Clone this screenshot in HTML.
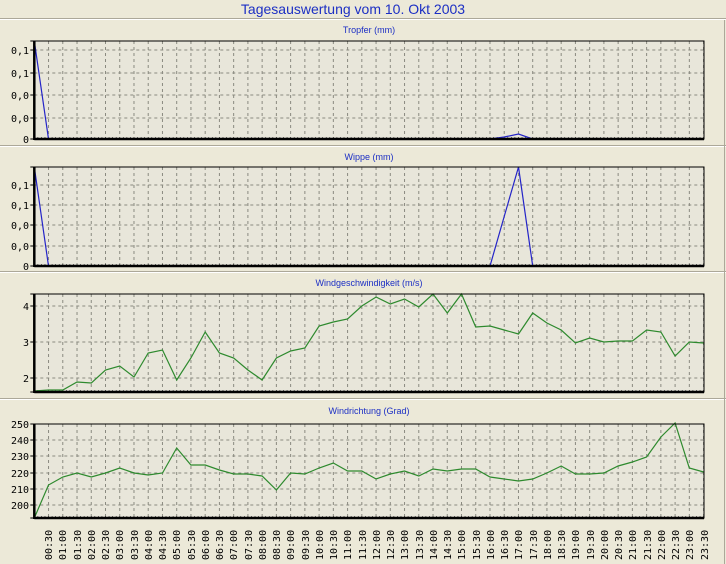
<!DOCTYPE html>
<html><head><meta charset="utf-8"><style>
body{margin:0;background:#ECE9D8;}
svg{display:block;font-family:"Liberation Sans",sans-serif;}
.yl{font-family:"DejaVu Sans Mono","Liberation Mono",monospace;font-size:10px;fill:#000;text-anchor:end;}
.xl{font-family:"DejaVu Sans Mono","Liberation Mono",monospace;font-size:10px;fill:#000;}
.st{font-size:9px;fill:#1c2fc4;text-anchor:middle;}
</style></head><body>
<svg id="s" width="726" height="564" viewBox="0 0 726 564" xmlns="http://www.w3.org/2000/svg">
<rect width="726" height="564" fill="#ECE9D8"/>
<line x1="0" y1="18.5" x2="726" y2="18.5" stroke="#ACA899"/><line x1="0" y1="19.5" x2="726" y2="19.5" stroke="#fff"/>
<line x1="0" y1="145.5" x2="726" y2="145.5" stroke="#ACA899"/><line x1="0" y1="146.5" x2="726" y2="146.5" stroke="#fff"/>
<line x1="0" y1="271.5" x2="726" y2="271.5" stroke="#ACA899"/><line x1="0" y1="272.5" x2="726" y2="272.5" stroke="#fff"/>
<line x1="0" y1="398.5" x2="726" y2="398.5" stroke="#ACA899"/><line x1="0" y1="399.5" x2="726" y2="399.5" stroke="#fff"/>
<line x1="724.5" y1="20" x2="724.5" y2="564" stroke="#ACA899"/>
<text x="353" y="14" text-anchor="middle" font-size="14" fill="#1c2fc4">Tagesauswertung vom 10. Okt 2003</text>
<text class="st" x="369" y="33">Tropfer (mm)</text>
<text class="st" x="369" y="160">Wippe (mm)</text>
<text class="st" x="369" y="286">Windgeschwindigkeit (m/s)</text>
<text class="st" x="369" y="414">Windrichtung (Grad)</text>
<g id="g"></g>
<text class="yl" x="29" y="54">0,1</text><text class="yl" x="29" y="77">0,1</text><text class="yl" x="29" y="99">0,0</text><text class="yl" x="29" y="122">0,0</text><text class="yl" x="29" y="143">0</text>
<text class="yl" x="29" y="189">0,1</text><text class="yl" x="29" y="209">0,1</text><text class="yl" x="29" y="229">0,0</text><text class="yl" x="29" y="250">0,0</text><text class="yl" x="29" y="270">0</text>
<text class="yl" x="29" y="310">4</text><text class="yl" x="29" y="346">3</text><text class="yl" x="29" y="382">2</text>
<text class="yl" x="29" y="428">250</text><text class="yl" x="29" y="444">240</text><text class="yl" x="29" y="460">230</text><text class="yl" x="29" y="477">220</text><text class="yl" x="29" y="493">210</text><text class="yl" x="29" y="509">200</text>
<g id="xl">
<text class="xl" transform="translate(52,560) rotate(-90)">00:30</text><text class="xl" transform="translate(66,560) rotate(-90)">01:00</text><text class="xl" transform="translate(81,560) rotate(-90)">01:30</text><text class="xl" transform="translate(95,560) rotate(-90)">02:00</text><text class="xl" transform="translate(109,560) rotate(-90)">02:30</text><text class="xl" transform="translate(123,560) rotate(-90)">03:00</text><text class="xl" transform="translate(138,560) rotate(-90)">03:30</text><text class="xl" transform="translate(152,560) rotate(-90)">04:00</text><text class="xl" transform="translate(166,560) rotate(-90)">04:30</text><text class="xl" transform="translate(180,560) rotate(-90)">05:00</text><text class="xl" transform="translate(195,560) rotate(-90)">05:30</text><text class="xl" transform="translate(209,560) rotate(-90)">06:00</text><text class="xl" transform="translate(223,560) rotate(-90)">06:30</text><text class="xl" transform="translate(237,560) rotate(-90)">07:00</text><text class="xl" transform="translate(252,560) rotate(-90)">07:30</text><text class="xl" transform="translate(266,560) rotate(-90)">08:00</text><text class="xl" transform="translate(280,560) rotate(-90)">08:30</text><text class="xl" transform="translate(294,560) rotate(-90)">09:00</text><text class="xl" transform="translate(309,560) rotate(-90)">09:30</text><text class="xl" transform="translate(323,560) rotate(-90)">10:00</text><text class="xl" transform="translate(337,560) rotate(-90)">10:30</text><text class="xl" transform="translate(351,560) rotate(-90)">11:00</text><text class="xl" transform="translate(366,560) rotate(-90)">11:30</text><text class="xl" transform="translate(380,560) rotate(-90)">12:00</text><text class="xl" transform="translate(394,560) rotate(-90)">12:30</text><text class="xl" transform="translate(408,560) rotate(-90)">13:00</text><text class="xl" transform="translate(423,560) rotate(-90)">13:30</text><text class="xl" transform="translate(437,560) rotate(-90)">14:00</text><text class="xl" transform="translate(451,560) rotate(-90)">14:30</text><text class="xl" transform="translate(465,560) rotate(-90)">15:00</text><text class="xl" transform="translate(480,560) rotate(-90)">15:30</text><text class="xl" transform="translate(494,560) rotate(-90)">16:00</text><text class="xl" transform="translate(508,560) rotate(-90)">16:30</text><text class="xl" transform="translate(522,560) rotate(-90)">17:00</text><text class="xl" transform="translate(537,560) rotate(-90)">17:30</text><text class="xl" transform="translate(551,560) rotate(-90)">18:00</text><text class="xl" transform="translate(565,560) rotate(-90)">18:30</text><text class="xl" transform="translate(579,560) rotate(-90)">19:00</text><text class="xl" transform="translate(594,560) rotate(-90)">19:30</text><text class="xl" transform="translate(608,560) rotate(-90)">20:00</text><text class="xl" transform="translate(622,560) rotate(-90)">20:30</text><text class="xl" transform="translate(636,560) rotate(-90)">21:00</text><text class="xl" transform="translate(651,560) rotate(-90)">21:30</text><text class="xl" transform="translate(665,560) rotate(-90)">22:00</text><text class="xl" transform="translate(679,560) rotate(-90)">22:30</text><text class="xl" transform="translate(693,560) rotate(-90)">23:00</text><text class="xl" transform="translate(708,560) rotate(-90)">23:30</text>
</g>
</svg>
<script>
(function(){
var NS="http://www.w3.org/2000/svg",g=document.getElementById("g");
function el(t,a){var e=document.createElementNS(NS,t);for(var k in a)e.setAttribute(k,a[k]);g.appendChild(e);return e;}
var X0=34.3,DX=14.24,XR=704;
function X(i){return X0+i*DX;}
var P=[{t:41,b:139,h:[50,73,95,118]},{t:167,b:266,h:[185,205,225,246]},{t:294,b:392,h:[306,342,378]},{t:424,b:518,h:[440,456,473,489,505]}];
var data=[
 null,null,
 [391,390,390,382,383,370,366,377,353,350,380,358,332,353,358,370,380,358,351,348,326,322,319,306,297,304,299,307,294,313,294,327,326,330,334,313,323,330,343,338,342,341,341,330,332,356,342,343],
 [518,485,477,473,477,473,468,473,475,473,448,465,465,470,474,474,476,490,473,474,468,463,471,471,479,474,471,476,469,471,469,469,477,479,481,479,473,466,474,474,473,466,462,457,437,423,468,472]
];
var y1=[],y2=[];for(var i=0;i<48;i++){y1.push(139);y2.push(266);}
y1[0]=41;y1[33]=137;y1[34]=134;
y2[0]=167;y2[33]=216.5;y2[34]=167;
data[0]=y1;data[1]=y2;
P.forEach(function(p,k){
 el("rect",{x:X0,y:p.t,width:XR-X0,height:p.b-p.t,fill:"#E8E6DA"});
 for(var i=1;i<48;i++)el("line",{x1:X(i),y1:p.t,x2:X(i),y2:p.b,stroke:"#8a8a80","stroke-dasharray":"3,3","stroke-width":1});
 p.h.forEach(function(y){el("line",{x1:X0,y1:y,x2:XR,y2:y,stroke:"#8a8a80","stroke-dasharray":"3,3","stroke-width":1});});
 for(var j=0;j<=47*4;j++){var x=X0+j*DX/4;if(x>XR)break;el("line",{x1:x,y1:p.b-2,x2:x,y2:p.b,stroke:"#333","stroke-width":0.7});}
 var pts=data[k].map(function(y,i){return X(i).toFixed(1)+","+y;}).join(" ");
 el("polyline",{points:pts,fill:"none",stroke:k<2?"#2424c8":"#2e8a2e","stroke-width":1.2});
 el("rect",{x:X0,y:p.t,width:XR-X0,height:p.b-p.t,fill:"none",stroke:"#000","stroke-width":1});
 el("line",{x1:X0,y1:p.t,x2:X0,y2:p.b+1,stroke:"#000","stroke-width":2.5});
 el("line",{x1:X0,y1:p.b,x2:XR,y2:p.b,stroke:"#000","stroke-width":2.5});
 el("line",{x1:X0-4,y1:p.b,x2:X0,y2:p.b,stroke:"#000"});
 p.h.concat([p.t]).forEach(function(y){el("line",{x1:X0-4,y1:y,x2:X0,y2:y,stroke:"#000"});});
});
})();
</script>
</body></html>
